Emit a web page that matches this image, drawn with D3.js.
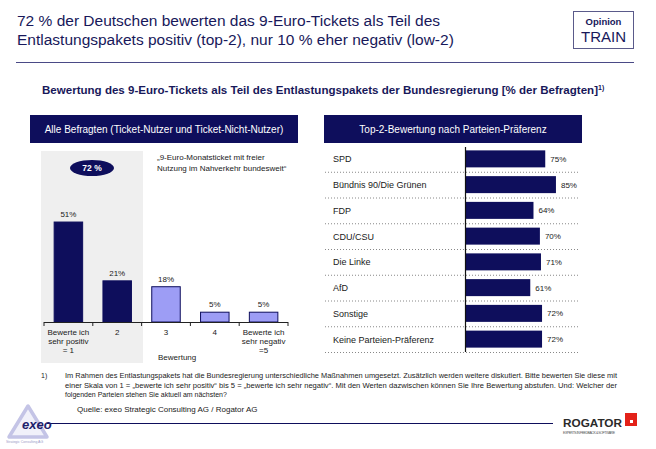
<!DOCTYPE html>
<html><head><meta charset="utf-8">
<script src="https://cdn.jsdelivr.net/npm/d3@7"></script>
<style>
html,body{margin:0;padding:0;background:#fff;}
svg{display:block;font-family:"Liberation Sans",Arial,sans-serif;}
</style></head>
<body><svg id="c" width="656" height="449"></svg>
<script>
// ---- data ----
const titleLines = ["72 % der Deutschen bewerten das 9-Euro-Tickets als Teil des",
                    "Entlastungspakets positiv (top-2), nur 10 % eher negativ (low-2)"];
const subtitle = "Bewertung des 9-Euro-Tickets als Teil des Entlastungspakets der Bundesregierung [% der Befragten]";
const leftHeader = "Alle Befragten (Ticket-Nutzer und Ticket-Nicht-Nutzer)";
const rightHeader = "Top-2-Bewertung nach Parteien-Präferenz";
const ratingCategories = ["1", "2", "3", "4", "5"];
const ratingLabels = [["Bewerte ich", "sehr positiv", "= 1"], ["2"], ["3"], ["4"], ["Bewerte ich", "sehr negativ", "=5"]];
const ratingValues = [51, 21, 18, 5, 5];
const top2Share = "72 %";
const questionNote = ["„9-Euro-Monatsticket mit freier", "Nutzung im Nahverkehr bundesweit\u201C"];
const parties = ["SPD", "Bündnis 90/Die Grünen", "FDP", "CDU/CSU", "Die Linke", "AfD", "Sonstige", "Keine Parteien-Präferenz"];
const partyValues = [75, 85, 64, 70, 71, 61, 72, 72];
const footnote = [
  "Im Rahmen des Entlastungspakets hat die Bundesregierung unterschiedliche Maßnahmen umgesetzt. Zusätzlich werden weitere diskutiert. Bitte bewerten Sie diese mit",
  "einer Skala von 1 = „bewerte ich sehr positiv\u201C bis 5 = „bewerte ich sehr negativ\u201C. Mit den Werten dazwischen können Sie Ihre Bewertung abstufen. Und: Welcher der",
  "folgenden Parteien stehen Sie aktuell am nächsten?"];
const source = "Quelle: exeo Strategic Consulting AG / Rogator AG";

const NAVY = "#0e0e5c", LIGHT = "#9d9df5", TXT = "#1a1a1a";
const svg = d3.select("#c");

// ---- header ----
svg.selectAll("text.title").data(titleLines).join("text").attr("class","title")
  .attr("x", 17).attr("y", (d,i) => 26 + i*19)
  .attr("font-size", 15.5).attr("fill", "#18185a").text(d => d);
svg.append("rect").attr("x",573.5).attr("y",11.5).attr("width",60).attr("height",37)
  .attr("fill","#fff").attr("stroke","#5a5a8a").attr("stroke-width",1);
svg.append("text").attr("x",603.5).attr("y",25).attr("text-anchor","middle")
  .attr("font-size",9.5).attr("font-weight","bold").attr("fill","#18185a").text("Opinion");
svg.append("text").attr("x",603.5).attr("y",42).attr("text-anchor","middle")
  .attr("font-size",15).attr("fill","#18185a").text("TRAIN");
svg.append("line").attr("x1",16).attr("x2",634).attr("y1",62.5).attr("y2",62.5)
  .attr("stroke","#4a4a86").attr("stroke-width",1.2);

const st = svg.append("text").attr("x",42).attr("y",94).attr("font-size",11)
  .attr("font-weight","bold").attr("fill","#18185a");
st.append("tspan").attr("textLength", 556).attr("lengthAdjust","spacingAndGlyphs").text(subtitle);
st.append("tspan").attr("dy",-4).attr("font-size",7).text("1)");

// panel headers
[[30, 298, leftHeader], [324, 582, rightHeader]].forEach(([x0,x1,t]) => {
  svg.append("rect").attr("x",x0).attr("y",115).attr("width",x1-x0).attr("height",28).attr("fill",NAVY);
  svg.append("text").attr("x",(x0+x1)/2).attr("y",132.5).attr("text-anchor","middle")
    .attr("font-size",10).attr("fill","#fff").text(t);
});

// ---- left chart ----
const x = d3.scaleBand().domain(ratingCategories).range([44, 288]).paddingInner(0.416).paddingOuter(0.208);
const y = d3.scaleLinear().domain([0, 100]).range([322, 126]);
const step = x.step(), gap = step * x.paddingInner() / 2;

svg.append("rect").attr("x", 41).attr("y", 151)
  .attr("width", 102).attr("height", 212).attr("fill", "#efefef");

svg.append("ellipse").attr("cx", 92).attr("cy", 168).attr("rx", 22).attr("ry", 8).attr("fill", NAVY);
svg.append("text").attr("x", 92).attr("y", 171).attr("text-anchor","middle").attr("font-size",8.5)
  .attr("font-weight","bold").attr("fill","#fff").text(top2Share);
svg.selectAll("text.qn").data(questionNote).join("text").attr("class","qn")
  .attr("x",157).attr("y",(d,i)=>160+i*11).attr("font-size",8).attr("fill",TXT).text(d=>d);

const bars = ratingCategories.map((c,i)=>({c, v: ratingValues[i], lab: ratingLabels[i]}));
svg.selectAll("rect.bar").data(bars).join("rect").attr("class","bar")
  .attr("x", d => x(d.c)).attr("width", x.bandwidth())
  .attr("y", d => y(d.v)).attr("height", d => y(0) - y(d.v))
  .attr("fill", (d,i) => i < 2 ? NAVY : LIGHT).attr("stroke", NAVY).attr("stroke-width", 1);
svg.selectAll("text.val").data(bars).join("text").attr("class","val")
  .attr("x", d => x(d.c) + x.bandwidth()/2).attr("y", d => y(d.v) - 5)
  .attr("text-anchor","middle").attr("font-size",8).attr("fill",TXT).text(d => d.v + "%");

// axis
svg.append("line").attr("x1", 44).attr("x2", 288).attr("y1", y(0)+0.5).attr("y2", y(0)+0.5)
  .attr("stroke", "#222").attr("stroke-width", 1);
const bounds = ratingCategories.map(c => x(c) - gap).concat([x("5") + x.bandwidth() + gap]);
svg.selectAll("line.tick").data(bounds).join("line").attr("class","tick")
  .attr("x1", d => d).attr("x2", d => d).attr("y1", y(0)).attr("y2", y(0)+4)
  .attr("stroke","#222");
bars.forEach(d => {
  d.lab.forEach((l,j) => {
    svg.append("text").attr("x", x(d.c) + x.bandwidth()/2).attr("y", 335 + j*9)
      .attr("text-anchor","middle").attr("font-size",8).attr("fill",TXT).text(l);
  });
});
svg.append("text").attr("x", 158).attr("y", 360).attr("font-size",8).attr("fill",TXT).text("Bewertung");

// ---- right chart ----
const yb = d3.scaleBand().domain(parties).range([146, 352]).paddingInner(0.34).paddingOuter(0.17);
const xr = d3.scaleLinear().domain([0, 100]).range([465, 572]);
const st2 = yb.step();
svg.selectAll("line.sep").data(parties).join("line").attr("class","sep")
  .attr("x1", 325).attr("x2", 580)
  .attr("y1", (d,i) => 146 + (i+1)*st2 + 0.5).attr("y2", (d,i) => 146 + (i+1)*st2 + 0.5)
  .attr("stroke", "#888").attr("stroke-width", 1).attr("stroke-dasharray", "1,2");
svg.selectAll("rect.pbar").data(parties).join("rect").attr("class","pbar")
  .attr("x", xr(0)).attr("y", d => yb(d)).attr("height", yb.bandwidth())
  .attr("width", (d,i) => xr(partyValues[i]) - xr(0)).attr("fill", NAVY);
svg.selectAll("text.pl").data(parties).join("text").attr("class","pl")
  .attr("x", 333).attr("y", d => yb(d) + yb.bandwidth()/2 + 3.5)
  .attr("font-size", 9).attr("fill", TXT).text(d => d);
svg.selectAll("text.pv").data(parties).join("text").attr("class","pv")
  .attr("x", (d,i) => xr(partyValues[i]) + 5).attr("y", d => yb(d) + yb.bandwidth()/2 + 3)
  .attr("font-size", 8).attr("fill", TXT).text((d,i) => partyValues[i] + "%");
svg.append("line").attr("x1", xr(0)+0.5).attr("x2", xr(0)+0.5).attr("y1", 147).attr("y2", 352)
  .attr("stroke", "#111").attr("stroke-width", 1.2);

// ---- footnote ----
svg.append("text").attr("x", 41).attr("y", 378).attr("font-size", 7).attr("fill", "#222").text("1)");
svg.selectAll("text.fn").data(footnote).join("text").attr("class","fn")
  .attr("x", 65).attr("y", (d,i) => 378 + i*9.5).attr("font-size", 7).attr("fill", "#222")
  .attr("textLength", (d,i) => i < 2 ? 552 : null).attr("lengthAdjust","spacingAndGlyphs").text(d => d);
svg.append("text").attr("x", 77).attr("y", 412).attr("font-size", 8).attr("fill", "#222").text(source);

// ---- logos / bottom line ----
svg.append("line").attr("x1", 47).attr("x2", 553).attr("y1", 423.5).attr("y2", 423.5)
  .attr("stroke", NAVY).attr("stroke-width", 1.2);
svg.append("path").attr("d", "M28,406 L9,437 L47,437 Z").attr("fill", "#f1f1fa")
  .attr("stroke", "#c4c4e6").attr("stroke-width", 3.5).attr("stroke-linejoin","round");
svg.append("text").attr("x", 22).attr("y", 429).attr("font-size", 13).attr("font-weight","bold")
  .attr("font-style","italic").attr("fill", "#20206a").text("exeo");
svg.append("text").attr("x", 6).attr("y", 443).attr("font-size", 3.5).attr("fill", "#9a9ac8").text("Strategic Consulting AG");
svg.append("text").attr("x", 563).attr("y", 427).attr("font-size", 11.5).attr("font-weight","bold")
  .attr("fill", "#2a2a2a").attr("textLength", 59).attr("lengthAdjust","spacingAndGlyphs").text("ROGATOR");
svg.append("rect").attr("x", 625).attr("y", 413).attr("width", 12).attr("height", 13).attr("fill", "#e32219");
svg.append("rect").attr("x", 630).attr("y", 420).attr("width", 3).attr("height", 3).attr("fill", "#fff");
svg.append("text").attr("x", 563).attr("y", 434).attr("font-size", 3.5).attr("fill", "#555")
  .attr("textLength", 52).text("EXPERTS IN FEEDBACK & SOFTWARE");
</script></body></html>
